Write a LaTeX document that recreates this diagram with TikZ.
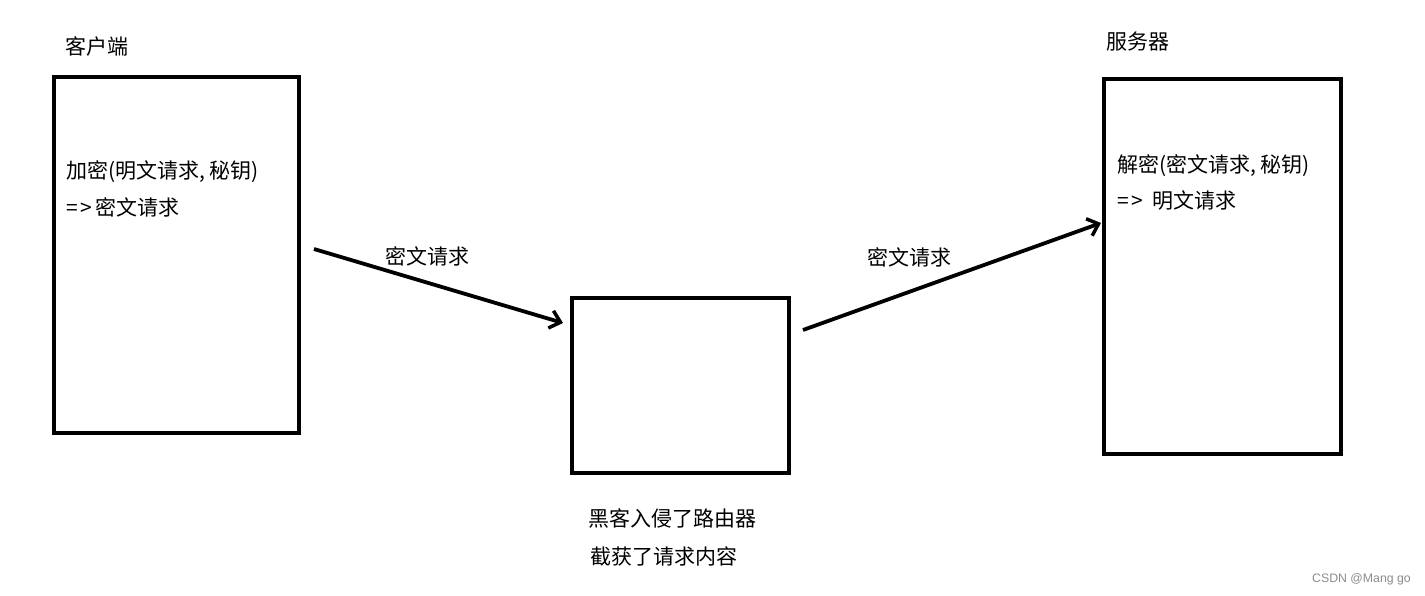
\documentclass[tikz,border=0pt]{standalone}
\usepackage{fontspec}
\setmainfont{Noto Sans CJK SC}
\newfontfamily\wmfont{Liberation Sans}
\usetikzlibrary{arrows.meta}
\begin{document}
\begin{tikzpicture}[x=1pt,y=-1pt,
  box/.style={draw=black,line width=3.5pt,minimum width=#1,inner sep=0pt},
  txt/.style={anchor=west,inner sep=0pt,font=\fontsize{21}{25}\selectfont},
  conn/.style={line width=3.8pt,-{Straight Barb[length=10pt,width=18pt,line width=3.5pt]}}]
\useasboundingbox[fill=white] (0,0) rectangle (1425,596);
% boxes
\node[box=245pt,minimum height=356pt] (client) at (176.5,255) {};
\node[box=217pt,minimum height=175pt] (router) at (680.5,385.5) {};
\node[box=237pt,minimum height=375pt] (server) at (1222.5,266.5) {};
% titles
\node[txt] (tclient) at (65,46) {客户端};
\node[txt] (tserver) at (1106,42) {服务器};
% client text
\node[txt] (c1) at (66,172) {加密(明文请求, 秘钥)};
\node[txt] (c2) at (66,207) {=\hspace{3pt}>\hspace{3pt}密文请求};
% server text
\node[txt] (s1) at (1117,166) {解密(密文请求, 秘钥)};
\node[txt] (s2) at (1117,201) {=\hspace{3pt}>\hspace{9pt}明文请求};
% router text
\node[txt] (r1) at (588,518) {黑客入侵了路由器};
\node[txt] (r2) at (590,556) {截获了请求内容};
% arrows
\coordinate (a1s) at (314,249);
\coordinate (a1e) at (563,323);
\coordinate (a2s) at (803,330);
\coordinate (a2e) at (1101,223);
\draw[conn] (a1s) -- (a1e);
\draw[conn] (a2s) -- (a2e);
\node[txt] (l1) at (385,256) {密文请求};
\node[txt] (l2) at (867,257) {密文请求};
% watermark
\node[anchor=west,inner sep=0pt,text=black!45,font=\wmfont\fontsize{12.3}{14}\selectfont] (wm) at (1312,579) {CSDN @Mang go};
\end{tikzpicture}
\end{document}
